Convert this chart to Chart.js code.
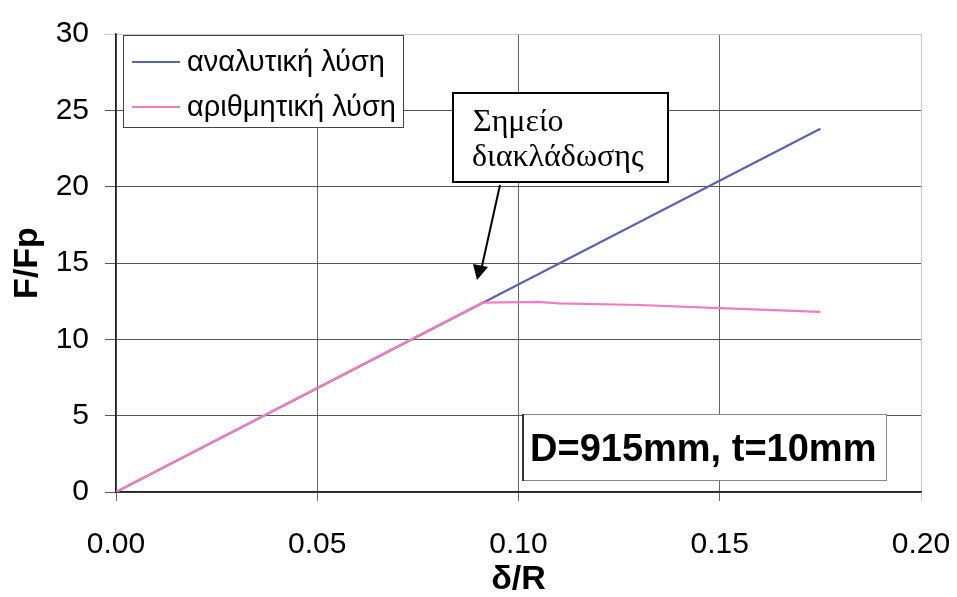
<!DOCTYPE html>
<html>
<head>
<meta charset="utf-8">
<script src="https://cdn.jsdelivr.net/npm/chart.js@4/dist/chart.umd.min.js"></script>
<style>
html,body{margin:0;padding:0;background:#fff;}
#wrap{width:957px;height:597px;position:relative;}
</style>
</head>
<body>
<div id="wrap"><canvas id="c" width="957" height="597"></canvas></div>
<script>
// Data
const analyticX = [0, 0.175];
const analyticY = [0, 23.8];
const numericX = [0, 0.091, 0.105, 0.11, 0.13, 0.15, 0.175];
const numericY = [0, 12.4, 12.45, 12.35, 12.25, 12.05, 11.8];
const seriesNames = ['αναλυτική λύση', 'αριθμητική λύση'];
const xTicks = [0, 0.05, 0.10, 0.15, 0.20];
const yTicks = [0, 5, 10, 15, 20, 25, 30];
const xTitle = 'δ/R';
const yTitle = 'F/Fp';
const noteText = ['Σημείο', 'διακλάδωσης'];
const infoText = 'D=915mm, t=10mm';

const blue = '#5a62b4';
const pink = '#f27cc0';
const SANS = '"Liberation Sans", Arial, sans-serif';
const SERIF = '"Liberation Serif", "Times New Roman", serif';

function pts(xs, ys){ return xs.map((x,i)=>({x:x, y:ys[i]})); }

const overlay = {
  id: 'overlay',
  afterDraw(chart){
    const ctx = chart.ctx;
    ctx.save();
    // Legend box
    ctx.fillStyle = '#fff';
    ctx.fillRect(123,35,280,92);
    ctx.strokeStyle = '#444';
    ctx.lineWidth = 1;
    ctx.strokeRect(123.5,35.5,280,92);
    const cols = [blue, pink];
    const ly = [62, 107];
    ctx.font = '29px ' + SANS;
    ctx.textBaseline = 'middle';
    ctx.textAlign = 'left';
    for (let i=0;i<2;i++){
      ctx.strokeStyle = cols[i];
      ctx.lineWidth = 2;
      ctx.beginPath(); ctx.moveTo(132, ly[i]); ctx.lineTo(180, ly[i]); ctx.stroke();
      ctx.fillStyle = '#000';
      ctx.fillText(seriesNames[i], 187, ly[i]+1);
    }
    // Note box
    ctx.fillStyle = '#fff';
    ctx.fillRect(452,92,217,91);
    ctx.strokeStyle = '#000';
    ctx.lineWidth = 2;
    ctx.strokeRect(453,93,215,89);
    ctx.fillStyle = '#000';
    ctx.font = '32px ' + SERIF;
    ctx.textBaseline = 'alphabetic';
    ctx.fillText(noteText[0], 473, 131);
    ctx.fillText(noteText[1], 472, 166);
    // Arrow
    ctx.strokeStyle = '#000';
    ctx.lineWidth = 2;
    ctx.beginPath(); ctx.moveTo(500,185); ctx.lineTo(482,266); ctx.stroke();
    ctx.beginPath();
    ctx.moveTo(477,280); ctx.lineTo(473,264); ctx.lineTo(488,267); ctx.closePath();
    ctx.fill();
    // Info box
    ctx.fillStyle = '#fff';
    ctx.fillRect(522,414,365,67);
    ctx.strokeStyle = '#888';
    ctx.lineWidth = 1;
    ctx.strokeRect(522.5,414.5,364,66);
    ctx.strokeStyle = '#333';
    ctx.lineWidth = 2;
    ctx.beginPath(); ctx.moveTo(523,414); ctx.lineTo(523,481); ctx.stroke();
    ctx.fillStyle = '#000';
    ctx.font = 'bold 38px ' + SANS;
    ctx.fillText(infoText, 530, 461);
    ctx.restore();
  }
};

new Chart(document.getElementById('c'), {
  type: 'line',
  data: {
    datasets: [
      { label: seriesNames[0], data: pts(analyticX, analyticY), borderColor: blue, borderWidth: 2.2, pointRadius: 0, tension: 0, order: 2 },
      { label: seriesNames[1], data: pts(numericX, numericY), borderColor: pink, borderWidth: 2.2, pointRadius: 0, tension: 0, order: 1 }
    ]
  },
  options: {
    responsive: false,
    animation: false,
    events: [],
    layout: { padding: { top: 26, right: 36, left: 0, bottom: 0 } },
    plugins: { legend: { display: false }, tooltip: { enabled: false } },
    scales: {
      x: {
        type: 'linear', min: 0, max: 0.2,
        afterBuildTicks(s){ s.ticks = xTicks.map(v=>({value:v})); },
        afterFit(s){ s.height = 105; s.paddingRight = 0; },
        ticks: { color: '#000', font: { family: SANS, size: 30 }, padding: 26, maxRotation: 0,
          callback: v => Number(v).toFixed(2) },
        grid: { color: ctx => (ctx.tick && ctx.tick.value === 0.2) ? '#c8c8c8' : '#666', lineWidth: 1, tickLength: 9, drawTicks: true },
        border: { color: '#222', width: 1.5 },
        title: { display: true, text: xTitle, color: '#000', font: { family: SANS, size: 34, weight: 'bold', lineHeight: 1 }, padding: { top: 0, bottom: 0 } }
      },
      y: {
        type: 'linear', min: 0, max: 30,
        afterBuildTicks(s){ s.ticks = yTicks.map(v=>({value:v})); },
        afterFit(s){ s.width = 116; },
        ticks: { color: '#000', font: { family: SANS, size: 30 }, padding: 16 },
        grid: { color: ctx => (ctx.tick && ctx.tick.value === 30) ? '#c8c8c8' : '#555', lineWidth: 1, tickLength: 11 },
        border: { color: '#222', width: 1.5 },
        title: { display: true, text: yTitle, color: '#000', font: { family: SANS, size: 34, weight: 'bold', lineHeight: 1 }, padding: { top: 11, bottom: 0 } }
      }
    }
  },
  plugins: [overlay]
});
</script>
</body>
</html>
